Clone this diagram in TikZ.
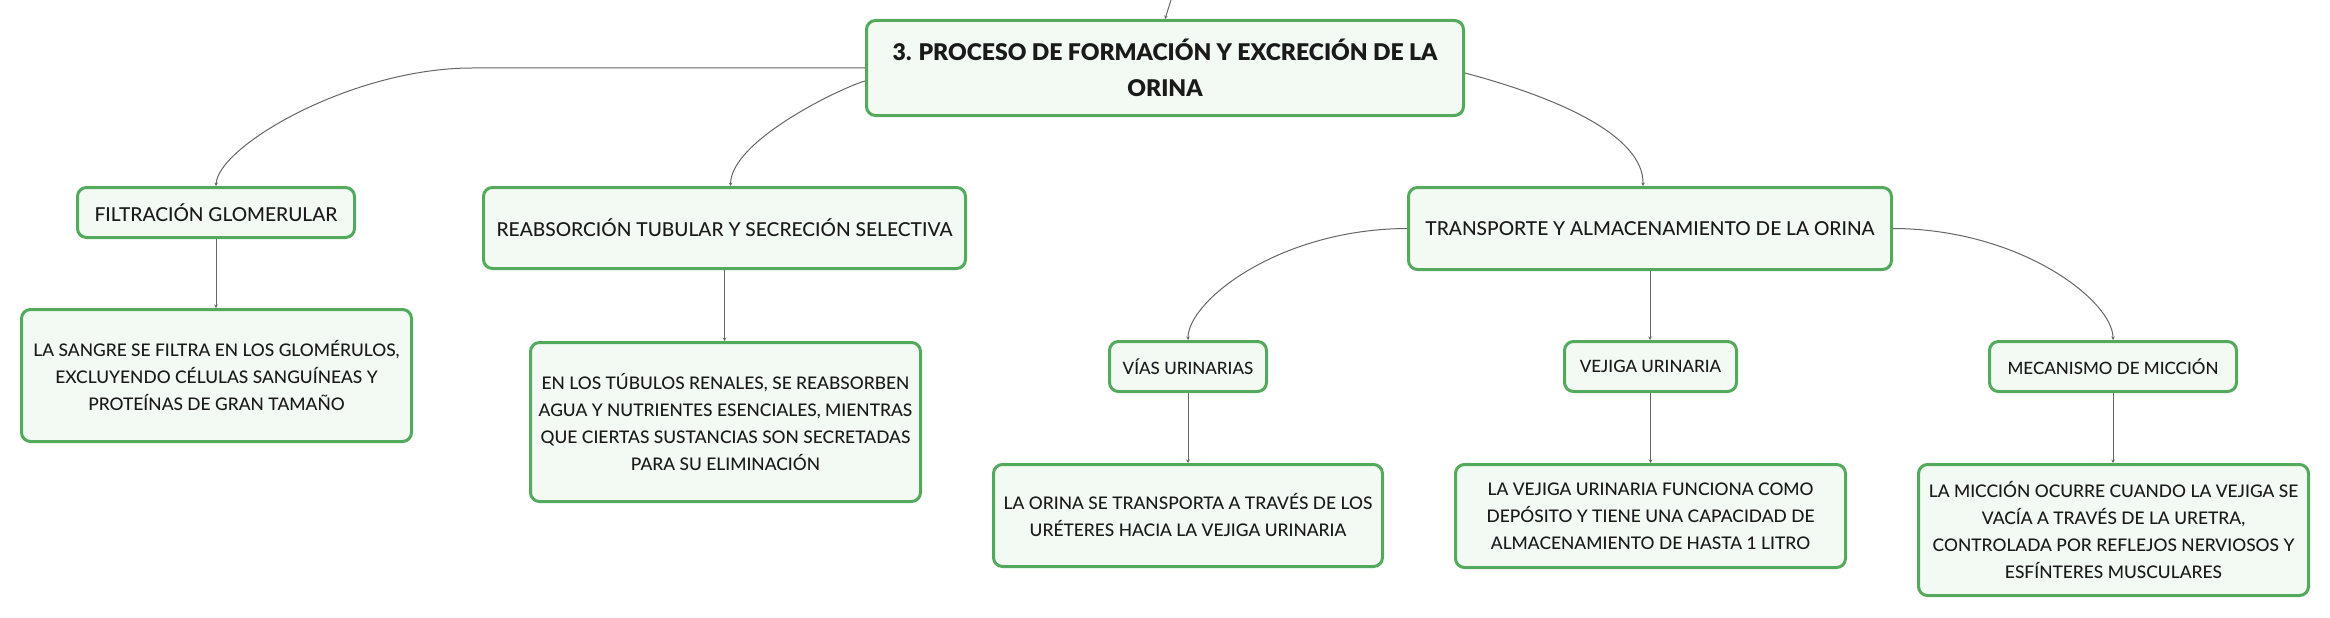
\documentclass[tikz,border=0pt]{standalone}
\usepackage{fontspec}
\setmainfont{Lato Medium}
\newfontfamily\heavyfont{Lato Black}
\usetikzlibrary{arrows.meta}
\definecolor{boxgreen}{RGB}{84,170,92}
\definecolor{boxfill}{RGB}{243,250,244}
\definecolor{linkgray}{RGB}{102,102,102}
\definecolor{txt}{RGB}{26,26,26}

\begin{document}
\begin{tikzpicture}[x=1pt, y=-1pt]

  % Define styles
  \tikzstyle{base_box} = [rectangle, draw=boxgreen, line width=3pt, fill=boxfill, rounded corners=9pt, inner sep=0pt, align=center, text=txt]
  \tikzstyle{main_box} = [base_box, font=\fontsize{23pt}{36pt}\selectfont\heavyfont]
  \tikzstyle{topic_box} = [base_box, font=\fontsize{19.2pt}{27pt}\selectfont]
  \tikzstyle{sub_box} = [base_box, font=\fontsize{17pt}{27pt}\selectfont]
  \tikzstyle{note_box} = [base_box, font=\fontsize{17.4pt}{27pt}\selectfont]
  \tikzstyle{link} = [draw=linkgray, line width=1pt, -{Stealth[length=3.5pt, width=3.5pt]}]

  % Canvas
  \fill[white] (0,0) rectangle (2330,618);
  \useasboundingbox (0,0) rectangle (2330,618);

  % Main topic
  \node[main_box, minimum width=597pt, minimum height=95pt] (orina) at (1165, 68) {3. PROCESO DE FORMACIÓN Y EXCRECIÓN DE LA\\ORINA};
  \coordinate (up) at (1171, 0);
  \draw[link] (up) -- (orina.north);

  % First level
  \node[topic_box, minimum width=277pt, minimum height=50pt] (filt) at (216, 212.5) {FILTRACIÓN GLOMERULAR};
  \node[topic_box, minimum width=482pt, minimum height=81pt] (reab) at (724.5, 228) {REABSORCIÓN TUBULAR Y SECRECIÓN SELECTIVA};
  \node[topic_box, minimum width=483pt, minimum height=82pt] (transp) at (1650, 228.5) {TRANSPORTE Y ALMACENAMIENTO DE LA ORINA};

  % Main topic connections
  \draw[link] (orina.west) -- (472, 68) .. controls (352, 68) and (218, 146) .. (filt.north);
  \draw[link] ([yshift=-13pt]orina.west) .. controls (843, 87) and (731, 140) .. ([xshift=6pt]reab.north);
  \draw[link] ([yshift=-5pt]orina.east) .. controls (1559, 98) and (1644, 136) .. ([xshift=-7pt]transp.north);

  % Second level under transport
  \node[sub_box, minimum width=157pt, minimum height=50pt] (vias) at (1188, 366.5) {VÍAS URINARIAS};
  \node[sub_box, minimum width=172pt, minimum height=50pt] (vejiga) at (1650.5, 366.5) {VEJIGA URINARIA};
  \node[sub_box, minimum width=247pt, minimum height=50pt] (miccion) at (2113, 366.5) {MECANISMO DE MICCIÓN};

  \draw[link] (transp.west) .. controls (1279, 229) and (1188, 301) .. (vias.north);
  \draw[link] (transp.south) -- (transp.south |- vejiga.north);
  \draw[link] (transp.east) .. controls (2021, 229) and (2113, 301) .. (miccion.north);

  % Descriptions
  \node[note_box, minimum width=390pt, minimum height=132pt] (filt_txt) at (216.5, 375.5) {LA SANGRE SE FILTRA EN LOS GLOMÉRULOS,\\EXCLUYENDO CÉLULAS SANGUÍNEAS Y\\PROTEÍNAS DE GRAN TAMAÑO};
  \node[note_box, minimum width=390pt, minimum height=159pt] (reab_txt) at (725.5, 422) {EN LOS TÚBULOS RENALES, SE REABSORBEN\\AGUA Y NUTRIENTES ESENCIALES, MIENTRAS\\QUE CIERTAS SUSTANCIAS SON SECRETADAS\\PARA SU ELIMINACIÓN};
  \node[note_box, minimum width=389pt, minimum height=102pt] (vias_txt) at (1188, 515.5) {LA ORINA SE TRANSPORTA A TRAVÉS DE LOS\\URÉTERES HACIA LA VEJIGA URINARIA};
  \node[note_box, minimum width=390pt, minimum height=103pt] (vejiga_txt) at (1650.5, 516) {LA VEJIGA URINARIA FUNCIONA COMO\\DEPÓSITO Y TIENE UNA CAPACIDAD DE\\ALMACENAMIENTO DE HASTA 1 LITRO};
  \node[note_box, minimum width=390pt, minimum height=131pt] (miccion_txt) at (2113.5, 530) {LA MICCIÓN OCURRE CUANDO LA VEJIGA SE\\VACÍA A TRAVÉS DE LA URETRA,\\CONTROLADA POR REFLEJOS NERVIOSOS Y\\ESFÍNTERES MUSCULARES};

  % Description connections
  \draw[link] (filt.south) -- (filt.south |- filt_txt.north);
  \draw[link] (reab.south) -- (reab.south |- reab_txt.north);
  \draw[link] (vias.south) -- (vias.south |- vias_txt.north);
  \draw[link] (vejiga.south) -- (vejiga.south |- vejiga_txt.north);
  \draw[link] (miccion.south) -- (miccion.south |- miccion_txt.north);

\end{tikzpicture}
\end{document}
